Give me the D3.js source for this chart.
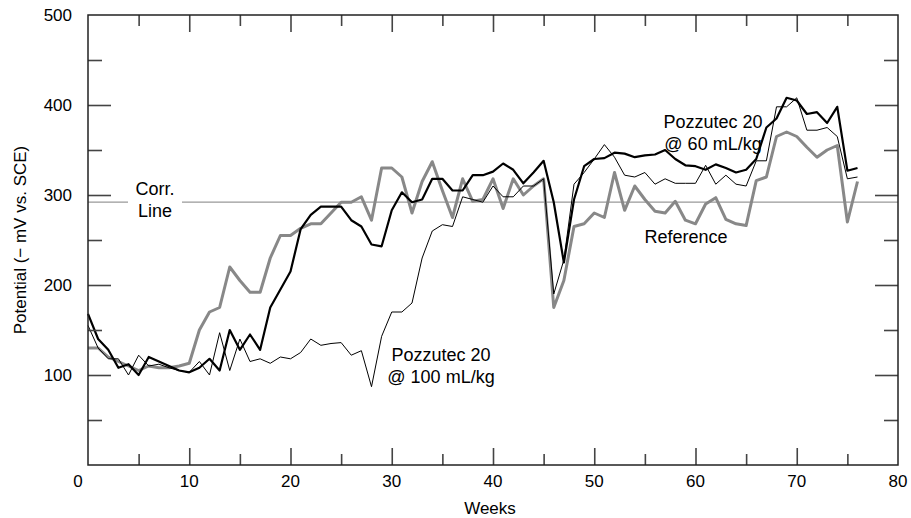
<!DOCTYPE html>
<html><head><meta charset="utf-8">
<script src="https://cdn.jsdelivr.net/npm/d3@7"></script>
<style>body{margin:0;background:#fff}text{font-family:"Liberation Sans",Arial,sans-serif;fill:#000}</style>
</head><body><svg id="c" width="911" height="518"></svg>
<script>
var weeks = d3.range(0, 77);
var reference = [130,130,120,115,110,105,110,108,108,110,113,150,170,175,220,205,192,192,230,255,255,263,268,268,280,292,292,298,272,330,330,320,280,315,337,305,275,318,293,295,318,285,318,300,310,318,175,205,265,268,280,275,325,283,310,295,282,280,293,272,268,290,297,273,268,266,316,320,365,370,365,353,342,350,355,270,315];
var dose60 = [168,140,128,108,112,100,120,115,110,105,103,108,118,105,150,128,145,128,175,195,215,262,278,287,287,287,272,265,245,243,283,303,292,295,318,318,305,305,322,322,326,335,328,313,325,338,292,225,295,332,340,341,347,346,342,344,345,350,340,333,332,328,334,330,325,328,340,375,385,408,405,390,392,380,398,327,330];
var dose100 = [155,130,118,118,100,122,110,112,108,105,103,115,100,147,105,140,115,118,113,120,118,125,140,133,135,136,122,127,87,143,170,170,180,230,260,267,265,298,295,292,310,298,298,310,310,318,190,228,312,325,340,356,342,322,320,325,312,318,313,313,313,333,312,322,312,310,338,338,398,398,408,372,372,375,365,318,320];
var corrLine = 292;
var xTicks = [10,20,30,40,50,60,70,80];
var yTicks = [100,200,300,400,500];

var svg = d3.select('#c');
var L = 88, R = 898, T = 15, B = 465;
var x = d3.scaleLinear().domain([0, 80]).range([L, R]);
var y = d3.scaleLinear().domain([0, 500]).range([B, T]);

// corrosion line with gap behind label
svg.append('line').attr('x1', L).attr('x2', R).attr('y1', y(corrLine)).attr('y2', y(corrLine))
  .attr('stroke', '#999').attr('stroke-width', 1.2);
svg.append('rect').attr('x', 128).attr('y', y(corrLine) - 4).attr('width', 54).attr('height', 8).attr('fill', '#fff');

var line = d3.line().x(function (d, i) { return x(weeks[i]); }).y(function (d) { return y(d); });
svg.append('path').datum(reference).attr('d', line).attr('fill', 'none').attr('stroke', '#888').attr('stroke-width', 3).attr('stroke-linejoin', 'round');
svg.append('path').datum(dose100).attr('d', line).attr('fill', 'none').attr('stroke', '#000').attr('stroke-width', 1);
svg.append('path').datum(dose60).attr('d', line).attr('fill', 'none').attr('stroke', '#000').attr('stroke-width', 2.2).attr('stroke-linejoin', 'round');

// inward ticks via axes (no labels)
function axisTicks(gen, tx, ty, vals, size) {
  var a = svg.append('g').attr('transform', 'translate(' + tx + ',' + ty + ')')
    .call(gen.tickValues(vals).tickSize(-size).tickFormat(''));
  a.select('.domain').remove();
  a.selectAll('line').attr('stroke', '#444').attr('stroke-width', 1.6);
}
var yMajor = [100, 200, 300, 400], yMinor = [50, 150, 250, 350, 450];
var xMajor = d3.range(10, 80, 10), xMinor = d3.range(5, 80, 10);
axisTicks(d3.axisLeft(y), L, 0, yMajor, 23);
axisTicks(d3.axisLeft(y), L, 0, yMinor, 14);
axisTicks(d3.axisRight(y), R, 0, yMajor, 23);
axisTicks(d3.axisRight(y), R, 0, yMinor, 14);
axisTicks(d3.axisBottom(x), 0, B, xMajor, 17);
axisTicks(d3.axisBottom(x), 0, B, xMinor, 11);
axisTicks(d3.axisTop(x), 0, T, xMajor, 17);
axisTicks(d3.axisTop(x), 0, T, xMinor, 11);

svg.append('rect').attr('x', L).attr('y', T).attr('width', R - L).attr('height', B - T)
  .attr('fill', 'none').attr('stroke', '#222').attr('stroke-width', 1.5);

// tick labels
xTicks.forEach(function (v) {
  svg.append('text').attr('x', x(v)).attr('y', 487).attr('text-anchor', 'middle').attr('font-size', 17).text(v);
});
svg.append('text').attr('x', 78).attr('y', 487).attr('text-anchor', 'middle').attr('font-size', 17).text('0');
yTicks.forEach(function (v) {
  svg.append('text').attr('x', 72).attr('y', y(v) + 6).attr('text-anchor', 'end').attr('font-size', 17).text(v);
});

svg.append('text').attr('x', 490).attr('y', 514).attr('text-anchor', 'middle').attr('font-size', 17).text('Weeks');
svg.append('text').attr('transform', 'translate(26,240) rotate(-90)').attr('text-anchor', 'middle').attr('font-size', 17).text('Potential (\u2212 mV vs. SCE)');

function label(cx, cy, lines) {
  lines.forEach(function (t, i) {
    svg.append('text').attr('x', cx).attr('y', cy + i * 22).attr('text-anchor', 'middle').attr('font-size', 18).text(t);
  });
}
label(155, 195, ['Corr.', 'Line']);
label(713, 128, ['Pozzutec 20', '@ 60 mL/kg']);
label(686, 243, ['Reference']);
label(441, 361, ['Pozzutec 20', '@ 100 mL/kg']);
</script></body></html>
